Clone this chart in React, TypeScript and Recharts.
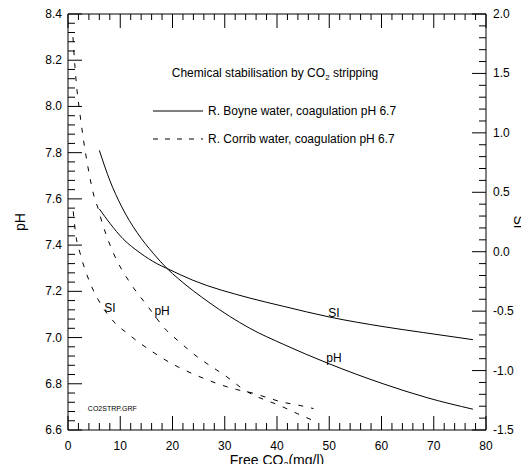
import React from "react";
import { LineChart, Line, XAxis, YAxis, ReferenceDot, ReferenceLine, Legend } from "recharts";

// R. Boyne water (solid lines)
const boyneCO2pH = [6.0, 8.0, 10.3, 13.2, 16.3, 18.9, 21.1, 27.0, 34.8, 41.3, 49.6, 60.3, 68.7, 77.5];
const boynePH = [7.81, 7.68, 7.565, 7.455, 7.365, 7.30, 7.255, 7.152, 7.04, 6.97, 6.89, 6.80, 6.74, 6.69];
const boyneCO2SI = [6.0, 8.0, 10.5, 13.8, 17.0, 18.9, 23.9, 34.8, 41.3, 50.1, 60.3, 68.0, 77.5];
const boyneSI = [0.36, 0.24, 0.11, -0.01, -0.1, -0.14, -0.24, -0.39, -0.46, -0.55, -0.63, -0.68, -0.74];

// R. Corrib water (dashed lines)
const corribCO2pH = [0.95, 1.34, 1.72, 2.1, 2.87, 3.8, 5.0, 5.74, 6.5, 7.46, 8.6, 11.9, 15.1, 18.9, 21.4, 23.7, 31.0, 33.3, 41.1, 44.0, 47.0];
const corribPH = [8.3, 8.17, 8.07, 8.0, 7.87, 7.74, 7.61, 7.56, 7.5, 7.435, 7.37, 7.236, 7.14, 7.03, 6.98, 6.935, 6.82, 6.78, 6.7, 6.67, 6.64];
const corribCO2SI = [1.0, 1.53, 2.3, 4.2, 5.74, 9.0, 11.3, 13.8, 16.1, 18.6, 21.1, 24.3, 32.3, 35.4, 38.3, 41.0, 44.0, 47.0];
const corribSI = [0.34, 0.13, -0.01, -0.26, -0.4, -0.6, -0.685, -0.77, -0.84, -0.91, -0.97, -1.035, -1.16, -1.19, -1.23, -1.265, -1.29, -1.32];

// curve annotations, placed on the pH scale (x = free CO2, y = pH at text baseline)
const curveLabels = [
  { text: "SI", x: 50.9, y: 7.089, size: 12, anchor: "middle" },
  { text: "pH", x: 50.9, y: 6.894, size: 12, anchor: "middle" },
  { text: "SI", x: 8.0, y: 7.11, size: 12, anchor: "middle" },
  { text: "pH", x: 18.0, y: 7.098, size: 12, anchor: "middle" },
  { text: "CO2STRP.GRF", x: 3.8, y: 6.682, size: 7, anchor: "start" },
];

const X_TICKS = Array.from({ length: 41 }, (_, i) => i * 2);
const PH_TICKS = Array.from({ length: 46 }, (_, i) => +(6.6 + i * 0.04).toFixed(2));
const SI_TICKS = Array.from({ length: 36 }, (_, i) => +(-1.5 + i * 0.1).toFixed(1));

const toRows = (xs: number[], ys: number[]) => xs.map((x, i) => ({ x, y: ys[i] }));

const FONT = "'Liberation Sans', Arial, Helvetica, sans-serif";
const MAJOR = 14;
const MINOR = 7;
const PLOT_H = 416;
const isMult = (v: number, step: number) => Math.abs(v / step - Math.round(v / step)) < 1e-6;

// bottom ticks point up into the plot; the same ticks are mirrored on the top frame
function BottomTick(props: any) {
  const { x, y, payload } = props;
  const major = isMult(payload.value, 10);
  const top = y - PLOT_H;
  return (
    <g>
      <line x1={x} y1={y} x2={x} y2={y - (major ? MAJOR : MINOR)} stroke="#000" />
      <line x1={x} y1={top} x2={x} y2={top + (major ? MAJOR : 6)} stroke="#000" />
      {major && (
        <text x={x} y={y + 20} textAnchor="middle" fontSize={12} fontFamily={FONT} fill="#000">
          {payload.value}
        </text>
      )}
    </g>
  );
}

function LeftTick(props: any) {
  const { x, y, payload } = props;
  const major = isMult(payload.value, 0.2);
  return (
    <g>
      <line x1={x} y1={y} x2={x + (major ? MAJOR : MINOR)} y2={y} stroke="#000" />
      {major && (
        <text x={x - 6} y={y + 4} textAnchor="end" fontSize={12} fontFamily={FONT} fill="#000">
          {payload.value.toFixed(1)}
        </text>
      )}
    </g>
  );
}

function RightTick(props: any) {
  const { x, y, payload } = props;
  const major = isMult(payload.value, 0.5);
  return (
    <g>
      <line x1={x} y1={y} x2={x - (major ? MAJOR : MINOR)} y2={y} stroke="#000" />
      {major && (
        <text x={x + 7} y={y + 4} textAnchor="start" fontSize={12} fontFamily={FONT} fill="#000">
          {payload.value.toFixed(1)}
        </text>
      )}
    </g>
  );
}

const xTitle = (p: any) => {
  const vb = p.viewBox;
  return (
    <text x={vb.x + vb.width / 2} y={vb.y + 35} textAnchor="middle" fontSize={14} fontFamily={FONT} fill="#000">
      Free CO<tspan dy={3} fontSize={9}>2</tspan>
      <tspan dy={-3}>(mg/l)</tspan>
    </text>
  );
};

const phTitle = (p: any) => {
  const vb = p.viewBox;
  const cx = vb.x + 12;
  const cy = vb.y + vb.height / 2;
  return (
    <text x={cx} y={cy} transform={`rotate(-90 ${cx} ${cy})`} textAnchor="middle" dominantBaseline="central" fontSize={14} fontFamily={FONT} fill="#000">
      pH
    </text>
  );
};

const siTitle = (p: any) => {
  const vb = p.viewBox;
  const cx = vb.x + 33;
  const cy = vb.y + vb.height / 2;
  return (
    <text x={cx} y={cy} transform={`rotate(90 ${cx} ${cy})`} textAnchor="middle" dominantBaseline="central" fontSize={14} fontFamily={FONT} fill="#000">
      SI
    </text>
  );
};

function LegendBox() {
  return (
    <svg width={300} height={100} style={{ display: "block", fontFamily: FONT }}>
      <text x={127} y={19} textAnchor="middle" fontSize={12} fill="#000">
        Chemical stabilisation by CO<tspan dy={3} fontSize={8}>2</tspan>
        <tspan dy={-3}> stripping</tspan>
      </text>
      <line x1={5} y1={53} x2={55} y2={53} stroke="#000" />
      <text x={60} y={57} fontSize={12} fill="#000">R. Boyne water, coagulation pH 6.7</text>
      <line x1={5} y1={81} x2={55} y2={81} stroke="#000" strokeDasharray="5 7" />
      <text x={60} y={85} fontSize={12} fill="#000">R. Corrib water, coagulation pH 6.7</text>
    </svg>
  );
}

export default function App() {
  return (
    <div style={{ width: 513, height: 456 }}>
      <LineChart width={520} height={463} margin={{ top: 6, right: 0, bottom: 0, left: 0 }} style={{ fontFamily: FONT }}>
        <XAxis
          type="number"
          dataKey="x"
          domain={[0, 80]}
          ticks={X_TICKS}
          interval={0}
          tickSize={0}
          tickMargin={0}
          tickLine={false}
          tick={<BottomTick />}
          axisLine={{ stroke: "#000" }}
          height={41}
          allowDataOverflow
          label={xTitle}
        />
        <YAxis
          yAxisId="ph"
          type="number"
          domain={[6.6, 8.4]}
          ticks={PH_TICKS}
          interval={0}
          tickSize={0}
          tickMargin={0}
          tickLine={false}
          tick={<LeftTick />}
          axisLine={{ stroke: "#000" }}
          width={60}
          allowDataOverflow
          label={phTitle}
        />
        <YAxis
          yAxisId="si"
          orientation="right"
          type="number"
          domain={[-1.5, 2.0]}
          ticks={SI_TICKS}
          interval={0}
          tickSize={0}
          tickMargin={0}
          tickLine={false}
          tick={<RightTick />}
          axisLine={{ stroke: "#000" }}
          width={42}
          allowDataOverflow
          label={siTitle}
        />
        <ReferenceLine yAxisId="ph" y={8.4} stroke="#000" />
        <Legend
          layout="vertical"
          align="center"
          verticalAlign="middle"
          content={() => <LegendBox />}
          wrapperStyle={{ left: 140, top: 50, width: 300, height: 100 }}
        />
        <Line yAxisId="ph" data={toRows(boyneCO2pH, boynePH)} dataKey="y" type="monotone" stroke="#000" strokeWidth={1} dot={false} isAnimationActive={false} />
        <Line yAxisId="si" data={toRows(boyneCO2SI, boyneSI)} dataKey="y" type="monotone" stroke="#000" strokeWidth={1} dot={false} isAnimationActive={false} />
        <Line yAxisId="ph" data={toRows(corribCO2pH, corribPH)} dataKey="y" type="monotone" stroke="#000" strokeWidth={1} strokeDasharray="5 8" dot={false} isAnimationActive={false} />
        <Line yAxisId="si" data={toRows(corribCO2SI, corribSI)} dataKey="y" type="monotone" stroke="#000" strokeWidth={1} strokeDasharray="5 8" dot={false} isAnimationActive={false} />
        {curveLabels.map((l, i) => (
          <ReferenceDot
            key={i}
            yAxisId="ph"
            x={l.x}
            y={l.y}
            r={0}
            shape={(p: any) => (
              <text x={p.cx} y={p.cy} textAnchor={l.anchor as any} fontSize={l.size} fontFamily={FONT} fill="#000">
                {l.text}
              </text>
            )}
          />
        ))}
      </LineChart>
    </div>
  );
}
